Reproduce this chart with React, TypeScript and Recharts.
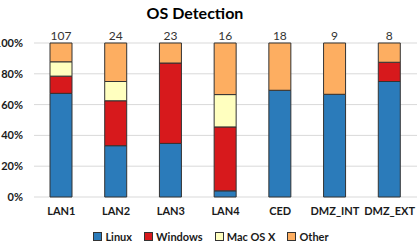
import React from "react";
import { BarChart, Bar, XAxis, YAxis, CartesianGrid, LabelList } from "recharts";

const categories = ["LAN1", "LAN2", "LAN3", "LAN4", "CED", "DMZ_INT", "DMZ_EXT"];
const counts = [107, 24, 23, 16, 18, 9, 8];
const linux = [67.3, 33.3, 34.8, 4, 69.3, 66.7, 75];
const windows = [11.2, 29.2, 52.2, 41.5, 0, 0, 12.5];
const macos = [9.3, 12.5, 0, 21, 0, 0, 0];
const other = [12.2, 25, 13, 33.5, 30.7, 33.3, 12.5];
const yTicks = [0, 20, 40, 60, 80, 100];

const series = [
  { key: "Linux", values: linux, color: "#2b7bba" },
  { key: "Windows", values: windows, color: "#d7191c" },
  { key: "Mac OS X", values: macos, color: "#ffffbf" },
  { key: "Other", values: other, color: "#fdae61" },
];

const data = categories.map((c, i) => {
  const row: any = { name: c, count: counts[i] };
  series.forEach((s) => (row[s.key] = s.values[i]));
  return row;
});

const FONT = "Lato, 'Open Sans', sans-serif";

export default function App() {
  return (
    <div style={{ position: "absolute", left: 0, top: 0, width: 419, height: 242, background: "#fff", fontFamily: FONT }}>
      <div style={{ position: "absolute", left: 0, width: 390, top: 3, textAlign: "center", fontWeight: 700, fontSize: 16, color: "#000" }}>
        OS Detection
      </div>
      <BarChart
        width={419}
        height={242}
        data={data}
        margin={{ top: 43, right: 2, bottom: 15, left: 0 }}
        barSize={22}
      >
        <CartesianGrid horizontal vertical={false} stroke="#d9d9d9" />
        <XAxis
          dataKey="name"
          height={30}
          axisLine={false}
          tickLine={false}
          tickSize={0}
          tickMargin={10}
          interval={0}
          tick={{ fontSize: 11, fontWeight: 700, fill: "#1a1a1a", fontFamily: FONT }}
        />
        <YAxis
          width={34}
          domain={[0, 100]}
          ticks={yTicks}
          axisLine={false}
          tickLine={false}
          tickSize={0}
          tickMargin={11}
          tickFormatter={(v: number) => `${v}%`}
          tick={{ fontSize: 11, fontWeight: 700, fill: "#1a1a1a", fontFamily: FONT }}
        />
        {series.map((s, idx) => (
          <Bar
            key={s.key}
            dataKey={s.key}
            stackId="a"
            fill={s.color}
            stroke="#333"
            strokeWidth={1}
            isAnimationActive={false}
          >
            {idx === series.length - 1 ? (
              <LabelList dataKey="count" position="top" offset={3} style={{ fontSize: 12, fill: "#333", fontFamily: FONT }} />
            ) : null}
          </Bar>
        ))}
      </BarChart>
      <div
        style={{
          position: "absolute",
          left: 0,
          width: 422,
          top: 230,
          display: "flex",
          justifyContent: "center",
          gap: 12,
          fontSize: 11,
          fontWeight: 700,
          color: "#1a1a1a",
        }}
      >
        {series.map((s) => (
          <div key={s.key} style={{ display: "flex", alignItems: "center", gap: 3 }}>
            <div style={{ width: 7, height: 7, background: s.color, border: "1px solid #333" }} />
            <span>{s.key}</span>
          </div>
        ))}
      </div>
    </div>
  );
}
